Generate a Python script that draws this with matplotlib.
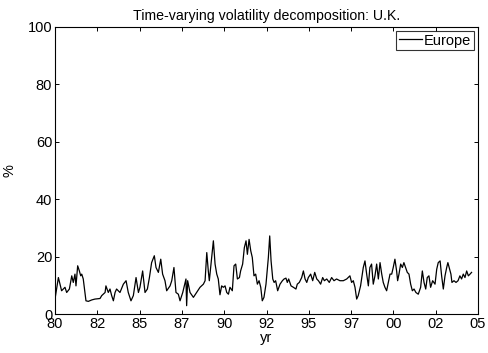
import matplotlib
matplotlib.use("Agg")
import matplotlib.pyplot as plt
import numpy as np

plt.rcParams['font.family'] = ['Liberation Sans', 'DejaVu Sans']

# time (years) and Europe share of U.K. volatility (%)
years = [
    1980.00, 1980.20, 1980.39, 1980.59, 1980.69, 1980.85, 1980.99, 1981.08, 1981.18, 1981.24,
    1981.34, 1981.44, 1981.52, 1981.58, 1981.67, 1981.83, 1981.97, 1982.17, 1982.36, 1982.66,
    1982.76, 1982.96, 1983.01, 1983.15, 1983.25, 1983.35, 1983.45, 1983.55, 1983.64, 1983.84,
    1984.04, 1984.20, 1984.33, 1984.49, 1984.63, 1984.79, 1984.93, 1985.02, 1985.18, 1985.32,
    1985.46, 1985.58, 1985.71, 1985.87, 1985.97, 1986.11, 1986.25, 1986.36, 1986.50, 1986.60,
    1986.80, 1986.90, 1987.03, 1987.15, 1987.29, 1987.39, 1987.55, 1987.74, 1987.78, 1987.84,
    1987.98, 1988.18, 1988.37, 1988.57, 1988.77, 1988.87, 1988.97, 1989.06, 1989.12, 1989.20,
    1989.36, 1989.46, 1989.56, 1989.65, 1989.75, 1989.85, 1989.95, 1990.05, 1990.15, 1990.25,
    1990.34, 1990.48, 1990.58, 1990.68, 1990.78, 1990.90, 1990.97, 1991.09, 1991.19, 1991.29,
    1991.37, 1991.47, 1991.57, 1991.66, 1991.76, 1991.86, 1991.96, 1992.06, 1992.16, 1992.25,
    1992.35, 1992.47, 1992.61, 1992.69, 1992.77, 1992.87, 1992.95, 1993.04, 1993.16, 1993.30,
    1993.44, 1993.54, 1993.65, 1993.73, 1993.81, 1993.95, 1994.09, 1994.24, 1994.32, 1994.44,
    1994.58, 1994.68, 1994.78, 1994.88, 1994.97, 1995.11, 1995.23, 1995.35, 1995.47, 1995.57,
    1995.70, 1995.82, 1995.92, 1996.06, 1996.21, 1996.35, 1996.49, 1996.64, 1996.84, 1997.04,
    1997.24, 1997.43, 1997.53, 1997.63, 1997.73, 1997.83, 1997.92, 1998.06, 1998.22, 1998.32,
    1998.42, 1998.52, 1998.61, 1998.71, 1998.81, 1998.91, 1999.01, 1999.11, 1999.21, 1999.31,
    1999.40, 1999.50, 1999.60, 1999.70, 1999.80, 1999.90, 1999.99, 2000.09, 2000.19, 2000.25,
    2000.33, 2000.43, 2000.53, 2000.62, 2000.72, 2000.82, 2000.92, 2001.02, 2001.12, 2001.22,
    2001.33, 2001.47, 2001.61, 2001.71, 2001.81, 2001.91, 2002.00, 2002.10, 2002.20, 2002.32,
    2002.46, 2002.56, 2002.65, 2002.76, 2002.85, 2002.95, 2003.05, 2003.15, 2003.22, 2003.32,
    2003.40, 2003.46, 2003.58, 2003.70, 2003.82, 2003.93, 2004.03, 2004.13, 2004.23, 2004.33,
    2004.43, 2004.53, 2004.62,
]
europe = [
    5.2, 12.7, 8.1, 9.3, 7.5, 8.7, 13.3, 11.0, 13.9, 9.8,
    16.8, 15.0, 13.3, 13.9, 12.2, 4.6, 4.4, 4.9, 5.2, 5.4,
    6.4, 7.5, 9.8, 7.5, 8.7, 6.4, 4.6, 7.5, 8.7, 7.5,
    10.4, 11.6, 7.5, 4.6, 6.4, 12.7, 7.5, 9.3, 15.0, 7.5,
    8.7, 12.7, 17.9, 20.3, 16.2, 14.5, 19.1, 13.9, 11.6, 8.1,
    9.8, 11.6, 16.2, 7.5, 6.9, 4.6, 7.5, 12.2, 2.9, 11.6,
    7.5, 5.8, 7.5, 9.3, 10.4, 11.6, 21.4, 15.0, 11.6, 16.2,
    25.5, 17.4, 13.9, 12.2, 6.7, 9.8, 9.3, 9.8, 7.5, 6.9,
    9.3, 8.1, 16.8, 17.4, 12.2, 12.7, 15.0, 17.4, 23.1, 25.5,
    20.8, 26.0, 22.0, 19.7, 13.3, 13.9, 10.4, 11.6, 9.3, 4.6,
    5.8, 10.4, 19.7, 27.2, 18.5, 12.2, 11.0, 11.6, 8.1, 10.4,
    11.6, 12.2, 12.5, 11.0, 12.2, 9.8, 9.3, 8.7, 10.4, 11.0,
    12.7, 15.0, 12.2, 11.0, 12.7, 13.9, 11.6, 14.5, 12.2, 11.6,
    10.4, 12.7, 11.6, 12.2, 11.0, 12.7, 11.6, 12.2, 11.6, 11.6,
    12.2, 13.3, 11.0, 11.6, 9.3, 5.2, 6.4, 9.8, 16.2, 18.5,
    13.9, 9.8, 16.2, 17.4, 10.4, 13.3, 17.4, 12.2, 17.9, 13.9,
    11.0, 9.3, 8.1, 11.0, 13.9, 13.9, 16.2, 19.1, 15.0, 11.6,
    13.9, 17.4, 16.2, 17.9, 16.2, 14.5, 13.9, 10.4, 8.1, 8.7,
    7.5, 6.9, 9.3, 15.0, 11.0, 8.7, 12.7, 13.3, 9.3, 11.6,
    10.4, 15.6, 17.9, 18.5, 13.3, 8.7, 13.3, 16.2, 17.9, 15.6,
    13.9, 11.0, 11.6, 11.0, 11.6, 13.3, 12.2, 13.9, 12.7, 15.0,
    13.3, 13.9, 14.5,
]

xtick_pos = [1980.0, 1982.5, 1985.0, 1987.5, 1990.0, 1992.5, 1995.0, 1997.5, 2000.0, 2002.5, 2005.0]
xtick_labels = ['80', '82', '85', '87', '90', '92', '95', '97', '00', '02', '05']
ytick_pos = [0, 20, 40, 60, 80, 100]

fig = plt.figure(figsize=(4.88, 3.53), dpi=100)
ax = fig.add_axes([55/488, 39/353, 423/488, 287/353])
ax.plot(years, europe, color='black', lw=0.9, label='Europe')
ax.set_xlim(1980, 2005)
ax.set_ylim(0, 100)
ax.set_xticks(xtick_pos)
ax.set_xticklabels(xtick_labels)
ax.set_yticks(ytick_pos)
ax.tick_params(direction='in', top=True, right=True, labelsize=10.5, length=3, width=0.7, pad=2)
for s in ax.spines.values():
    s.set_linewidth(0.8)
ax.set_xlabel('yr', fontsize=10.5, labelpad=0)
ax.set_ylabel('%', fontsize=10.5, labelpad=8)
ax.set_title('Time-varying volatility decomposition: U.K.', fontsize=10.2, pad=5)
leg = ax.legend(loc='upper right', fontsize=10.5, frameon=True, fancybox=False,
                borderaxespad=0.25, handlelength=1.6, handletextpad=0.15,
                borderpad=0.2, edgecolor='black')
leg.get_frame().set_linewidth(0.8)
fig.savefig('out.png', dpi=100)
